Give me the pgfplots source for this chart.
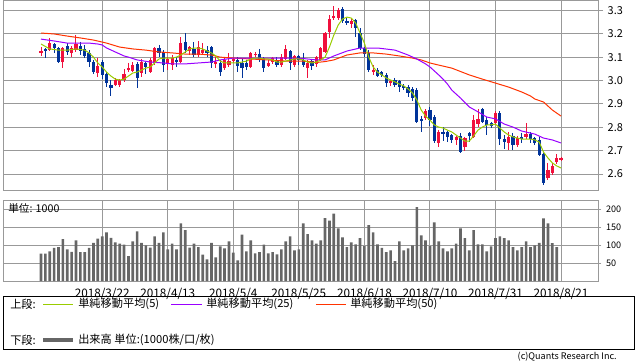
\documentclass[border=0pt]{standalone}
\usepackage{fontspec}
\setmainfont{Noto Sans CJK JP}
\usepackage{pgfplots}
\pgfplotsset{compat=1.18}
\usepackage{pgfplotstable}

\definecolor{cred}{HTML}{F0103C}
\definecolor{cblue}{HTML}{003399}
\definecolor{sma5}{HTML}{99CC00}
\definecolor{sma25}{HTML}{9900FF}
\definecolor{sma50}{HTML}{FF3300}
\definecolor{gridc}{HTML}{999999}
\definecolor{volc}{HTML}{666666}

\pgfplotstableread{
i o h l c
0 3.118 3.143 3.105 3.126
2 3.130 3.182 3.126 3.160
5 3.079 3.143 3.053 3.139
7 3.118 3.147 3.100 3.139
8 3.130 3.194 3.122 3.156
13 3.032 3.096 3.015 3.062
17 2.981 3.011 2.977 3.002
18 2.981 3.006 2.972 3.002
19 3.002 3.049 2.994 3.028
20 3.045 3.075 3.036 3.053
21 3.041 3.079 3.036 3.066
23 3.032 3.092 3.015 3.079
25 3.036 3.096 3.032 3.088
26 3.075 3.143 3.066 3.139
29 3.071 3.100 3.045 3.092
30 3.066 3.109 3.045 3.096
32 3.079 3.186 3.075 3.160
34 3.126 3.147 3.109 3.143
36 3.109 3.169 3.100 3.143
37 3.118 3.160 3.109 3.130
40 3.071 3.100 3.053 3.079
42 3.053 3.100 3.045 3.088
43 3.066 3.118 3.058 3.083
44 3.083 3.100 3.075 3.092
48 3.058 3.122 3.053 3.118
49 3.109 3.122 3.100 3.113
52 3.062 3.088 3.058 3.075
53 3.079 3.100 3.071 3.096
55 3.066 3.113 3.058 3.100
56 3.092 3.152 3.088 3.135
58 3.066 3.109 3.058 3.105
61 3.053 3.088 3.011 3.075
63 3.071 3.105 3.058 3.100
64 3.088 3.143 3.083 3.139
65 3.122 3.207 3.118 3.203
66 3.207 3.280 3.182 3.263
67 3.267 3.318 3.259 3.276
68 3.267 3.310 3.259 3.301
71 3.241 3.267 3.224 3.254
76 3.036 3.066 3.024 3.045
80 2.989 3.002 2.977 2.998
88 2.840 2.878 2.831 2.870
91 2.733 2.788 2.716 2.780
95 2.746 2.763 2.724 2.759
97 2.716 2.759 2.699 2.754
99 2.759 2.853 2.754 2.831
100 2.814 2.878 2.801 2.836
104 2.818 2.870 2.810 2.861
107 2.733 2.780 2.703 2.759
109 2.724 2.763 2.716 2.754
111 2.759 2.818 2.750 2.771
116 2.583 2.648 2.575 2.618
117 2.605 2.648 2.596 2.635
118 2.652 2.686 2.643 2.669
119 2.660 2.673 2.656 2.669
}\redtab

\pgfplotstableread{
i o h l c
1 3.135 3.139 3.096 3.126
3 3.156 3.160 3.118 3.139
4 3.139 3.143 3.075 3.079
6 3.147 3.160 3.109 3.122
9 3.147 3.165 3.109 3.126
10 3.135 3.152 3.096 3.105
11 3.118 3.130 3.058 3.079
12 3.079 3.088 3.028 3.036
14 3.079 3.088 3.006 3.024
15 3.028 3.036 2.972 2.989
16 2.981 3.002 2.934 2.968
22 3.071 3.079 2.968 3.011
24 3.075 3.079 3.028 3.058
27 3.139 3.152 3.100 3.118
28 3.122 3.130 3.036 3.066
31 3.088 3.100 3.058 3.079
33 3.165 3.203 3.118 3.130
35 3.135 3.165 3.100 3.109
38 3.130 3.147 3.100 3.118
39 3.143 3.147 3.053 3.075
41 3.075 3.088 3.019 3.036
45 3.088 3.100 3.036 3.062
46 3.075 3.096 3.011 3.053
47 3.075 3.088 3.045 3.058
50 3.113 3.135 3.079 3.092
51 3.096 3.100 3.036 3.053
54 3.088 3.100 3.058 3.066
57 3.126 3.130 3.045 3.075
59 3.105 3.109 3.066 3.088
60 3.088 3.118 3.058 3.066
62 3.083 3.088 3.045 3.062
69 3.306 3.314 3.246 3.254
70 3.254 3.267 3.237 3.246
72 3.259 3.263 3.186 3.224
73 3.203 3.224 3.130 3.139
74 3.139 3.143 3.100 3.113
75 3.118 3.130 3.036 3.045
77 3.045 3.053 3.015 3.019
78 3.036 3.041 3.015 3.024
79 3.024 3.032 2.972 2.989
81 3.002 3.011 2.972 2.981
82 2.998 3.002 2.951 2.972
83 2.977 2.985 2.959 2.968
84 2.972 2.981 2.930 2.947
85 2.964 2.972 2.912 2.925
86 2.959 2.968 2.818 2.823
87 2.836 2.848 2.780 2.827
89 2.874 2.887 2.806 2.831
90 2.844 2.853 2.733 2.741
92 2.780 2.801 2.741 2.771
93 2.780 2.784 2.737 2.759
94 2.767 2.771 2.733 2.746
96 2.763 2.776 2.690 2.694
98 2.776 2.780 2.737 2.763
101 2.878 2.883 2.818 2.823
102 2.831 2.844 2.767 2.810
103 2.818 2.823 2.797 2.806
105 2.861 2.870 2.724 2.750
106 2.750 2.767 2.707 2.737
108 2.763 2.776 2.703 2.724
110 2.759 2.776 2.733 2.750
112 2.771 2.780 2.733 2.750
113 2.754 2.759 2.724 2.733
114 2.746 2.759 2.677 2.682
115 2.686 2.690 2.553 2.562
}\bluetab

\pgfplotstableread{
i v
0 76
1 76
2 82
3 92
4 94
5 116
6 88
7 81
8 113
9 80
10 80
11 92
12 106
13 118
14 124
15 135
16 120
17 107
18 104
19 101
20 69
21 110
22 138
23 106
24 99
25 93
26 124
27 106
28 135
29 88
30 104
31 88
32 160
33 141
34 93
35 104
36 94
37 73
38 60
39 106
40 66
41 96
42 91
43 110
44 79
45 57
46 129
47 82
48 113
49 77
50 80
51 101
52 77
53 80
54 74
55 88
56 110
57 124
58 85
59 88
60 160
61 130
62 113
63 104
64 113
65 175
66 168
67 187
68 146
69 121
70 94
71 107
72 102
73 119
74 97
75 155
76 135
77 102
78 92
79 80
80 85
81 55
82 110
83 85
84 91
85 99
86 205
87 127
88 113
89 97
90 163
91 110
92 91
93 82
94 91
95 104
96 146
97 119
98 85
99 141
100 102
101 102
102 82
103 96
104 119
105 124
106 119
107 113
108 94
109 85
110 94
111 110
112 94
113 99
114 106
115 174
116 160
117 105
118 94
}\voltab

\pgfplotsset{
  wick/.style={draw=none, mark=none, forget plot,
    error bars/y dir=minus, error bars/y explicit, error bars/error mark=none,
    error bars/error bar style={draw=#1, line width=0.75pt}},
  body/.style={draw=none, mark=none, forget plot,
    error bars/y dir=minus, error bars/y explicit, error bars/error mark=none,
    error bars/error bar style={draw=#1, line width=2.4pt, line cap=butt}},
  panel/.style={scale only axis, width=446.25pt,
    xmin=-8.70, xmax=127.46,
    axis line style={gridc, line width=0.75pt},
    grid=major, major grid style={gridc, line width=0.75pt},
    xtick={14,29,44,59,74,89,104,119},
    xtick style={draw=none},
    ytick pos=right, yticklabel pos=right,
    tick align=outside,
    ytick style={gridc, line width=0.75pt},
    /pgf/number format/assume math mode=true},
}

\begin{document}
\begin{tikzpicture}
\useasboundingbox (0pt,0pt) rectangle (478.5pt,-271.5pt);

\begin{axis}[panel, at={(2.25pt,-142.5pt)}, anchor=south west,
  height=142.125pt, ymin=2.532, ymax=3.342,
  xticklabels={},
  ytick={2.6,2.7,2.8,2.9,3.0,3.1,3.2,3.3},
  major tick length=3.75pt,
  yticklabel style={font=\fontsize{8.2}{9}\selectfont, text=black,
    /pgf/number format/.cd, fixed, fixed zerofill, precision=1}]
\addplot[wick=cred] table[x=i, y=h, y error minus expr={\thisrow{h}-\thisrow{l}}] {\redtab};
\addplot[wick=cblue] table[x=i, y=h, y error minus expr={\thisrow{h}-\thisrow{l}}] {\bluetab};
\addplot[body=cred] table[x=i, y expr={max(\thisrow{o},\thisrow{c})}, y error minus expr={abs(\thisrow{o}-\thisrow{c})}] {\redtab};
\addplot[body=cblue] table[x=i, y expr={max(\thisrow{o},\thisrow{c})}, y error minus expr={abs(\thisrow{o}-\thisrow{c})}] {\bluetab};
\addplot[sma50, line width=0.75pt] coordinates {(0,3.203)(3,3.199)(6,3.190)(9,3.182)(12,3.173)(15,3.160)(18,3.143)(21,3.135)(24,3.130)(27,3.122)(30,3.118)(33,3.113)(36,3.113)(39,3.109)(41,3.100)(44,3.096)(48,3.092)(52,3.088)(56,3.083)(60,3.083)(63,3.077)(65,3.081)(67,3.088)(70,3.109)(73,3.118)(76,3.118)(79,3.113)(82,3.105)(85,3.096)(87,3.088)(89,3.075)(91,3.066)(94,3.053)(98,3.024)(101,3.006)(104,2.989)(107,2.972)(110,2.951)(112,2.934)(113,2.921)(115,2.908)(117,2.874)(118,2.861)(119,2.848)};
\addplot[sma25, line width=0.75pt] coordinates {(0,3.177)(3,3.169)(6,3.160)(8,3.160)(11,3.160)(13,3.156)(14,3.152)(15,3.139)(17,3.122)(19,3.105)(20,3.100)(22,3.088)(25,3.079)(28,3.075)(30,3.071)(33,3.071)(36,3.075)(39,3.079)(41,3.088)(44,3.096)(48,3.096)(52,3.096)(56,3.096)(60,3.094)(63,3.088)(65,3.088)(67,3.105)(70,3.126)(73,3.139)(77,3.139)(81,3.130)(84,3.109)(86,3.092)(88,3.071)(89,3.058)(90,3.041)(91,3.024)(92,3.006)(93,2.985)(94,2.959)(96,2.925)(98,2.887)(100,2.866)(102,2.844)(104,2.836)(106,2.814)(108,2.801)(110,2.784)(113,2.771)(115,2.754)(117,2.746)(119,2.733)};
\addplot[sma5, line width=0.75pt] coordinates {(0,3.156)(2,3.135)(4,3.130)(6,3.130)(8,3.135)(10,3.130)(11,3.118)(12,3.100)(13,3.075)(14,3.058)(15,3.036)(16,3.019)(17,3.006)(18,3.002)(19,3.006)(20,3.019)(21,3.032)(22,3.036)(23,3.045)(24,3.053)(25,3.058)(26,3.075)(27,3.092)(28,3.096)(29,3.096)(30,3.096)(31,3.100)(32,3.109)(33,3.122)(34,3.135)(35,3.139)(36,3.139)(37,3.135)(38,3.126)(39,3.118)(40,3.105)(41,3.083)(42,3.075)(43,3.075)(44,3.075)(45,3.075)(46,3.079)(47,3.083)(48,3.092)(49,3.096)(50,3.096)(51,3.092)(52,3.092)(53,3.088)(54,3.079)(55,3.079)(56,3.083)(57,3.088)(58,3.092)(59,3.092)(60,3.088)(61,3.079)(62,3.075)(63,3.079)(64,3.088)(65,3.100)(66,3.143)(67,3.194)(68,3.237)(69,3.263)(70,3.271)(71,3.267)(72,3.246)(73,3.203)(74,3.160)(75,3.100)(76,3.058)(77,3.036)(78,3.024)(79,3.011)(80,3.002)(81,2.994)(82,2.985)(83,2.977)(84,2.964)(85,2.947)(86,2.917)(87,2.874)(88,2.848)(89,2.831)(90,2.810)(91,2.801)(92,2.797)(93,2.788)(94,2.780)(95,2.767)(96,2.754)(97,2.741)(98,2.741)(99,2.763)(100,2.788)(101,2.801)(102,2.810)(103,2.810)(104,2.814)(105,2.797)(106,2.780)(107,2.767)(108,2.759)(109,2.754)(110,2.750)(111,2.750)(112,2.750)(113,2.746)(114,2.737)(115,2.694)(116,2.669)(117,2.648)(118,2.635)(119,2.626)};
\end{axis}

\begin{axis}[panel, at={(2.25pt,-210.75pt)}, anchor=south west,
  height=60.75pt, ymin=0, ymax=225,
  ytick={50,100,150,200},
  major tick length=2.5pt,
  xticklabels={2018/3/22,2018/4/13,2018/5/4,2018/5/25,2018/6/18,2018/7/10,2018/7/31,2018/8/21},
  xticklabel style={font=\fontsize{8.8}{9}\selectfont, text=black, yshift=1pt},
  yticklabel style={font=\fontsize{6.8}{8}\selectfont, text=black}]
\addplot[ybar, bar width=2.0pt, fill=volc, draw=none] table[x=i, y=v] {\voltab};
\end{axis}

\node[anchor=west, inner sep=0pt, font=\fontsize{8}{9}\selectfont] at (6pt,-156.4pt) {単位: 1000};

% legend
\draw[black, line width=0.75pt] (2.25pt,-222pt) rectangle (475.5pt,-262pt);
\begin{scope}[every node/.style={anchor=west, inner sep=0pt, font=\fontsize{8.4}{9}\selectfont}]
\node at (7.5pt,-228pt) {上段:};
\draw[sma5, line width=0.75pt] (32.25pt,-228pt) -- (54.75pt,-228pt);
\node at (58.5pt,-228pt) {単純移動平均(5)};
\draw[sma25, line width=0.75pt] (128.25pt,-228pt) -- (151.5pt,-228pt);
\node at (154.5pt,-228pt) {単純移動平均(25)};
\draw[sma50, line width=0.75pt] (237pt,-228pt) -- (259.5pt,-228pt);
\node at (262.5pt,-228pt) {単純移動平均(50)};
\node at (7.5pt,-255pt) {下段:};
\draw[volc, line width=3pt] (32.25pt,-255pt) -- (54.75pt,-255pt);
\node at (58.5pt,-255pt) {出来高 単位:(1000株/口/枚)};
\end{scope}
\node[anchor=east, inner sep=0pt, font=\fontsize{6.8}{8}\selectfont] at (462.75pt,-267.75pt) {(c)Quants Research Inc.};
\end{tikzpicture}
\end{document}
